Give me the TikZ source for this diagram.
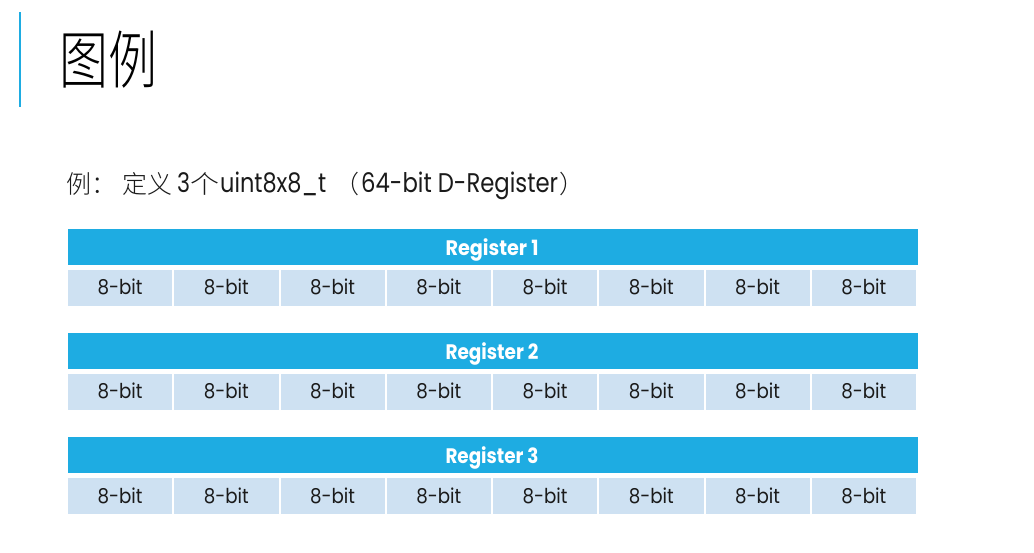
\documentclass[tikz,border=0pt]{standalone}
\usepackage{fontspec}
\usepackage{graphicx}
\setmainfont{Poppins}
\newfontfamily\cjk{Noto Sans CJK SC Light}
\definecolor{hdrblue}{HTML}{1EACE2}
\definecolor{cellblue}{HTML}{CEE1F2}
\definecolor{txtdark}{HTML}{1A1A1A}
\newcommand{\fitw}[2]{\resizebox{#1}{\height}{#2}}
\begin{document}
\begin{tikzpicture}[x=1pt,y=-1pt,
  hdr/.style={fill=hdrblue,draw=none,minimum width=850pt,minimum height=36pt,inner sep=0pt,anchor=north west},
  hdrtext/.style={anchor=base,inner sep=0pt,text=white,font=\fontsize{21}{21}\selectfont\bfseries},
  cell/.style={fill=cellblue,draw=none,minimum width=104.25pt,minimum height=36pt,inner sep=0pt,anchor=north west},
  celltext/.style={anchor=base,inner sep=0pt,text=txtdark,font=\fontsize{20.5}{20.5}\selectfont},
  subcjk/.style={anchor=base west,inner sep=0pt,text=txtdark,font=\cjk\fontsize{25}{25}\selectfont},
  sublat/.style={anchor=base west,inner sep=0pt,text=txtdark,font=\fontsize{27}{27}\selectfont}]
\useasboundingbox[fill=white] (0,0) rectangle (1034,553);
\fill[hdrblue] (19,12) rectangle (21,107);
\node[anchor=west,inner sep=0pt,text=black] (title) at (59,60) {\cjk\fontsize{63}{63}\selectfont\fitw{98pt}{图例}};
% subtitle
\node[subcjk] (s1) at (66,194) {例：};
\node[subcjk] (s2) at (122,194) {定义};
\node[sublat] (s3) at (177,193) {\fitw{13pt}{3}};
\node[subcjk] (s4) at (190,194) {\fitw{29pt}{个}};
\node[sublat] (s5) at (220,193) {\fitw{106pt}{uint8x8\_t}};
\node[subcjk] (s6) at (334,194) {（};
\node[sublat] (s7) at (361,193) {\fitw{197pt}{64-bit D-Register}};
\node[subcjk] (s8) at (559,194) {）};
\foreach \r/\y in {1/229,2/333,3/437}{
  \node[hdr] (h\r) at (68,\y) {};
  \node[hdrtext] (t\r) at (492,\y+27) {\fitw{93pt}{Register \r}};
  \foreach \c in {0,...,7}{
    \node[cell] (c\r\c) at ({68+\c*106.25},{\y+41}) {};
    \node[celltext] (l\r\c) at ({68+\c*106.25+52.1},{\y+66}) {\fitw{45pt}{8-bit}};
  }
}
\end{tikzpicture}
\end{document}
